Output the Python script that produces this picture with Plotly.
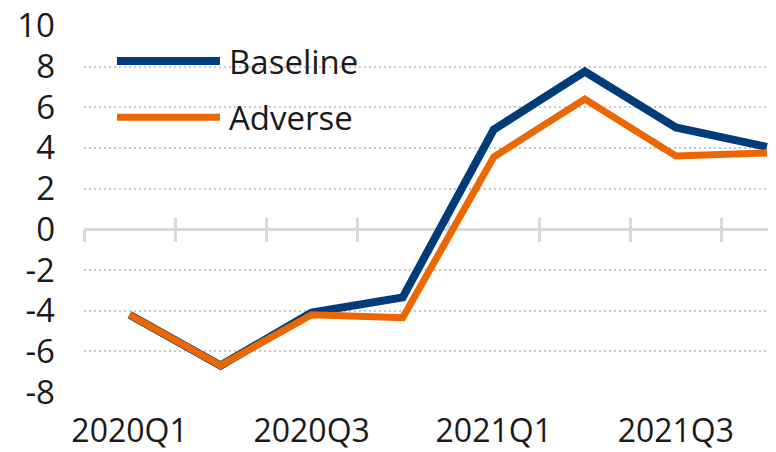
import plotly.graph_objects as go

quarters = ["2020Q1", "2020Q2", "2020Q3", "2020Q4", "2021Q1", "2021Q2", "2021Q3", "2021Q4"]
baseline = [-4.2, -6.7, -4.1, -3.35, 4.9, 7.75, 5.0, 4.05]
adverse = [-4.2, -6.7, -4.2, -4.35, 3.55, 6.4, 3.6, 3.75]
x_tick_labels = ["2020Q1", "2020Q3", "2021Q1", "2021Q3"]
y_ticks = [-8, -6, -4, -2, 0, 2, 4, 6, 8, 10]
y_tick_text = ["-8", "-6", "-4", "-2", "0", "2", "4", "6", "8", "10"]
series_names = ["Baseline", "Adverse"]
series_colors = ["#003B7A", "#EC6602"]

FONT = "Open Sans"
FS = 33
TXT = "#1a1a1a"

fig = go.Figure()
fig.add_trace(go.Scatter(x=quarters, y=baseline, mode="lines", name=series_names[0],
                         line=dict(color=series_colors[0], width=8), showlegend=False))
fig.add_trace(go.Scatter(x=quarters, y=adverse, mode="lines", name=series_names[1],
                         line=dict(color=series_colors[1], width=7), showlegend=False))
# empty helper traces so the tick-only axes on the zero line are drawn
fig.add_trace(go.Scatter(x=[], y=[], xaxis="x2", showlegend=False, hoverinfo="skip"))
fig.add_trace(go.Scatter(x=[], y=[], xaxis="x3", showlegend=False, hoverinfo="skip"))

ymin, ymax = -8, 10.04
zero_pos = (0 - ymin) / (ymax - ymin)

# page body has an 8px margin, so the figure is sized/offset to compensate
fig.update_layout(
    width=768, height=444,
    margin=dict(l=76, r=0, t=17, b=60),
    paper_bgcolor="white", plot_bgcolor="white",
    font=dict(family=FONT, size=FS, color=TXT),
    xaxis=dict(type="category", categoryarray=quarters, categoryorder="array",
               range=[-0.5, 7.1], tickvals=x_tick_labels, ticktext=x_tick_labels,
               showgrid=False, showline=False, zeroline=False, ticks="",
               automargin=False, ticklabelstandoff=17, ticklabeloverflow="allow",
               tickfont=dict(size=32, family=FONT, color=TXT)),
    xaxis2=dict(overlaying="x", anchor="free", position=zero_pos, side="bottom",
                range=[-0.5, 7.1], tickmode="linear", tick0=-0.5, dtick=1,
                ticks="outside", ticklen=12, tickwidth=3, tickcolor="#d9d9d9",
                showticklabels=False, showgrid=False, zeroline=False, showline=False,
                automargin=False, layer="below traces"),
    xaxis3=dict(overlaying="x", anchor="free", position=zero_pos, side="bottom",
                range=[-0.5, 7.1], tickmode="linear", tick0=-0.5, dtick=1,
                ticks="inside", ticklen=11, tickwidth=3, tickcolor="#d9d9d9",
                showticklabels=False, showgrid=False, zeroline=False, showline=False,
                automargin=False, layer="below traces"),
    yaxis=dict(range=[ymin, ymax], tickvals=y_ticks, ticktext=y_tick_text, showgrid=True,
               gridcolor="#c8c8c8", gridwidth=2, griddash="2px,3px",
               zeroline=True, zerolinecolor="#d9d9d9", zerolinewidth=3,
               showline=False, ticks="", ticklabelstandoff=28, automargin=False,
               ticklabeloverflow="allow",
               tickfont=dict(size=FS, family=FONT, color=TXT)),
    showlegend=False,
)

# legend drawn manually (long line samples)
legend_rows = [(0.9016, 0), (0.7486, 1)]
for ypos, i in legend_rows:
    fig.add_shape(type="line", xref="paper", yref="paper", x0=0.0477, x1=0.1965,
                  y0=ypos, y1=ypos, line=dict(color=series_colors[i], width=8 if i == 0 else 7))
    fig.add_annotation(xref="paper", yref="paper", x=0.206, y=ypos, text=series_names[i],
                       showarrow=False, xanchor="left", yanchor="middle",
                       font=dict(size=FS, family=FONT, color=TXT))

fig.write_html("out.html")
